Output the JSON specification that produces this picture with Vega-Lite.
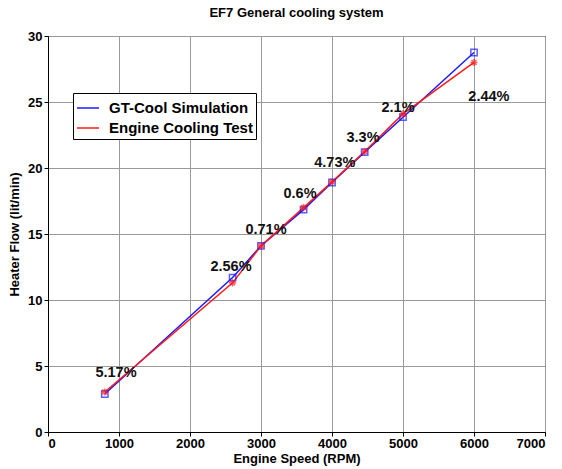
{
  "$schema": "https://vega.github.io/schema/vega-lite/v6.json",
  "autosize": {"type": "none"},
  "width": 497,
  "height": 396,
  "padding": {"left": 48, "top": 36, "right": 17, "bottom": 37},
  "background": "white",
  "config": {
    "font": "Liberation Sans",
    "view": {"stroke": "black", "strokeWidth": 1},
    "axis": {
      "labelFont": "Liberation Sans", "labelFontWeight": "bold", "labelFontSize": 13, "labelColor": "black",
      "titleFont": "Liberation Sans", "titleFontWeight": "bold", "titleFontSize": 13, "titleColor": "black",
      "gridColor": "#999999", "gridWidth": 1, "domainColor": "black", "tickColor": "black", "tickSize": 4
    }
  },
  "title": {"text": "EF7 General cooling system", "font": "Liberation Sans", "fontSize": 13, "fontWeight": "bold", "color": "black", "offset": 10},
  "datasets": {
    "pts": [
      {"rpm": 800, "flow": 2.88, "series": "GT-Cool Simulation"},
      {"rpm": 2600, "flow": 11.7, "series": "GT-Cool Simulation"},
      {"rpm": 3000, "flow": 14.1, "series": "GT-Cool Simulation"},
      {"rpm": 3600, "flow": 16.85, "series": "GT-Cool Simulation"},
      {"rpm": 4000, "flow": 18.9, "series": "GT-Cool Simulation"},
      {"rpm": 4460, "flow": 21.2, "series": "GT-Cool Simulation"},
      {"rpm": 5000, "flow": 23.85, "series": "GT-Cool Simulation"},
      {"rpm": 6000, "flow": 28.75, "series": "GT-Cool Simulation"},
      {"rpm": 800, "flow": 3.03, "series": "Engine Cooling Test"},
      {"rpm": 2600, "flow": 11.3, "series": "Engine Cooling Test"},
      {"rpm": 3000, "flow": 14.1, "series": "Engine Cooling Test"},
      {"rpm": 3600, "flow": 17.0, "series": "Engine Cooling Test"},
      {"rpm": 4000, "flow": 18.95, "series": "Engine Cooling Test"},
      {"rpm": 4460, "flow": 21.25, "series": "Engine Cooling Test"},
      {"rpm": 5000, "flow": 24.1, "series": "Engine Cooling Test"},
      {"rpm": 6000, "flow": 28.0, "series": "Engine Cooling Test"}
    ],
    "labels": [
      {"rpm": 958, "flow": 4.5, "txt": "5.17%"},
      {"rpm": 2577, "flow": 12.5, "txt": "2.56%"},
      {"rpm": 3070, "flow": 15.3, "txt": "0.71%"},
      {"rpm": 3550, "flow": 18.0, "txt": "0.6%"},
      {"rpm": 4040, "flow": 20.4, "txt": "4.73%"},
      {"rpm": 4437, "flow": 22.3, "txt": "3.3%"},
      {"rpm": 4930, "flow": 24.55, "txt": "2.1%"},
      {"rpm": 6210, "flow": 25.4, "txt": "2.44%"}
    ]
  },
  "layer": [
    {
      "data": {"name": "pts"},
      "mark": {"type": "line", "strokeWidth": 1.5},
      "encoding": {
        "x": {"field": "rpm", "type": "quantitative", "scale": {"domain": [0, 7000], "nice": false}, "axis": {"values": [0,1000,2000,3000,4000,5000,6000,7000], "format": "d", "title": "Engine Speed (RPM)", "titlePadding": 2, "labelPadding": 1}},
        "y": {"field": "flow", "type": "quantitative", "scale": {"domain": [0, 30], "nice": false}, "axis": {"values": [0,5,10,15,20,25,30], "title": "Heater Flow (lit/min)", "titlePadding": 6, "labelPadding": 2}},
        "color": {"field": "series", "type": "nominal", "sort": ["GT-Cool Simulation", "Engine Cooling Test"],
          "scale": {"domain": ["GT-Cool Simulation", "Engine Cooling Test"], "range": ["#1a1aff", "#ff1a1a"]},
          "legend": {"title": null, "orient": "none", "legendX": 25, "legendY": 57, "symbolType": "stroke", "symbolStrokeWidth": 1.5, "symbolSize": 484,
            "labelFont": "Liberation Sans", "labelFontWeight": "bold", "labelFontSize": 15, "labelColor": "black",
            "strokeColor": "black", "fillColor": "white", "padding": 3, "rowPadding": 0, "labelOffset": 9}}
      }
    },
    {
      "data": {"name": "pts"},
      "transform": [{"filter": "datum.series === 'GT-Cool Simulation'"}],
      "mark": {"type": "point", "shape": "square", "filled": false, "color": "#1a1aff", "size": 40, "strokeWidth": 1.5},
      "encoding": {"x": {"field": "rpm", "type": "quantitative"}, "y": {"field": "flow", "type": "quantitative"}}
    },
    {
      "data": {"name": "pts"},
      "transform": [{"filter": "datum.series === 'Engine Cooling Test'"}],
      "mark": {"type": "point", "shape": "M-1,0L1,0M0,-1L0,1M-0.7,-0.7L0.7,0.7M-0.7,0.7L0.7,-0.7", "filled": false, "color": "#ff1a1a", "size": 50, "strokeWidth": 1.5},
      "encoding": {"x": {"field": "rpm", "type": "quantitative"}, "y": {"field": "flow", "type": "quantitative"}}
    },
    {
      "data": {"name": "labels"},
      "mark": {"type": "text", "font": "Liberation Sans", "fontWeight": "bold", "fontSize": 14.5, "color": "#111111"},
      "encoding": {"x": {"field": "rpm", "type": "quantitative"}, "y": {"field": "flow", "type": "quantitative"}, "text": {"field": "txt"}}
    }
  ]
}
